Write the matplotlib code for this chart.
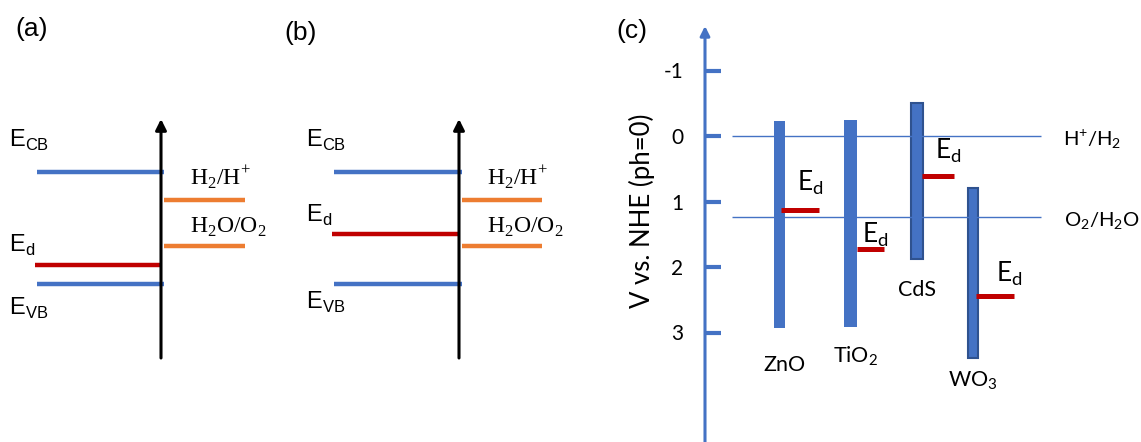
from matplotlib import pyplot as plt

W, H = 1141, 442

BLUE = "#4472C4"
ORANGE = "#ED7D31"
RED = "#C00000"

# panels (a) and (b): schematic energy levels (arbitrary units, 0..10 = arrow)
level_cb = 7.8
level_vb = 3.1
level_h2 = 6.6
level_o2 = 4.7
ed_a = 3.9
ed_b = 5.2

# panel (c): band edges in V vs NHE
materials = ["ZnO", "TiO$_\\mathregular{2}$", "CdS", "WO$_\\mathregular{3}$"]
cb_edge = [-0.23, -0.24, -0.50, 0.79]
vb_edge = [2.93, 2.92, 1.88, 3.39]
ed_level = [1.13, 1.73, 0.61, 2.44]
redox_level = [0.0, 1.23]
redox_names = ["H$^\\mathregular{+}$/H$_\\mathregular{2}$", "O$_\\mathregular{2}$/H$_\\mathregular{2}$O"]
ticks = [-1, 0, 1, 2, 3]

# layout (pixels)
bar_x = [779.5, 850.5, 917, 973]
bar_w = [11, 13, 12, 10]
bar_edge = [None, None, "#2F528F", "#2F528F"]
ed_x0 = [781, 857, 922, 976]
ed_x1 = [819, 884, 954, 1014]
ed_lab = [(797, 20), (862, 7), (935, 17), (996, 14)]
name_dy = [43, 35, 37, 28]

SANS = "Liberation Sans"
SERIF = "Liberation Serif"
CAL = "Lato"


def add_ax(x0, x1, y_top, y_bot):
    ax = fig.add_axes([x0 / W, 1 - y_bot / H, (x1 - x0) / W, (y_bot - y_top) / H])
    ax.set_xlim(x0, x1)
    ax.patch.set_alpha(0)
    return ax


def level_panel(ax, ed, x_arrow, x_left, x_right, x_lab, x_red, ed_dy, vb_dy):
    ax.set_ylim(0, 10)
    ax.axis("off")
    ax.annotate("", xy=(x_arrow, 10), xytext=(x_arrow, 0),
                arrowprops=dict(arrowstyle="-|>", lw=2.2, color="k",
                                mutation_scale=16, shrinkA=0, shrinkB=0))
    ax.hlines([level_cb, level_vb], x_left, x_arrow + 3, color=BLUE, lw=3.2)
    ax.hlines(ed, x_left - 2, x_arrow + 1, color=RED, lw=3.2)
    ax.hlines([level_h2, level_o2], x_arrow + 3, x_right, color=ORANGE, lw=3.2)
    kw = dict(textcoords="offset pixels", fontsize=17, family=SANS,
              va="baseline", annotation_clip=False)
    ax.annotate("E$_\\mathregular{CB}$", (x_lab, level_cb), xytext=(0, 25), **kw)
    ax.annotate("E$_\\mathregular{d}$", (x_lab, ed), xytext=(0, ed_dy), **kw)
    ax.annotate("E$_\\mathregular{VB}$", (x_lab, level_vb), xytext=(0, -vb_dy), **kw)
    kw = dict(textcoords="offset pixels", fontsize=17, family=SERIF,
              va="baseline", annotation_clip=False)
    ax.annotate("H$_\\mathregular{2}$/H$^\\mathregular{+}$", (x_red, level_h2), xytext=(0, 15), **kw)
    ax.annotate("H$_\\mathregular{2}$O/O$_\\mathregular{2}$", (x_red, level_o2), xytext=(0, 13), **kw)


fig = plt.figure(figsize=(W / 100, H / 100), dpi=100)

ax_a = add_ax(0, 280, 119, 358)
level_panel(ax_a, ed_a, 161, 37, 245, 9, 190, 13, 31)
ax_b = add_ax(280, 580, 119, 358)
level_panel(ax_b, ed_b, 459, 334, 542, 306, 487, 12, 25)

fig.text(15 / W, 1 - 36 / H, "(a)", fontsize=19, family=SANS)
fig.text(284 / W, 1 - 40 / H, "(b)", fontsize=19, family=SANS)
fig.text(616 / W, 1 - 38 / H, "(c)", fontsize=19, family=SANS)

# panel (c)
v0, scale = 136, 65.5
ax_c = add_ax(704, W, 26, H)
ax_c.set_ylim((H - v0) / scale, (26 - v0) / scale)
for s in ax_c.spines.values():
    s.set_visible(False)
ax_c.set_xticks([])
ax_c.set_yticks(ticks)
ax_c.set_yticklabels([str(t) for t in ticks], family=CAL, fontsize=15)
ax_c.tick_params(axis="y", direction="in", length=12, width=3, color=BLUE, pad=15)
lo, hi = ax_c.get_ylim()
ax_c.annotate("", xy=(705, hi), xytext=(705, lo),
              arrowprops=dict(arrowstyle="-|>", lw=2.2, color=BLUE,
                              mutation_scale=14, shrinkA=0, shrinkB=0))

ax_c.hlines(redox_level, 732, 1041, color=BLUE, lw=1)
for lvl, name, lx in zip(redox_level, redox_names, [1063, 1064]):
    ax_c.annotate(name, (lx, lvl), xytext=(0, -10), textcoords="offset pixels",
                  va="baseline", fontsize=14.5, family=CAL, annotation_clip=False)

for i in range(len(materials)):
    ec = bar_edge[i] if bar_edge[i] else BLUE
    ax_c.bar(bar_x[i], vb_edge[i] - cb_edge[i], bottom=cb_edge[i], width=bar_w[i],
             color=BLUE, edgecolor=ec, lw=1.5 if bar_edge[i] else 0)
    ax_c.hlines(ed_level[i], ed_x0[i], ed_x1[i], color=RED, lw=3.6, zorder=3)
    ax_c.annotate("E$_\\mathregular{d}$", (ed_lab[i][0], ed_level[i]),
                  xytext=(0, ed_lab[i][1]), textcoords="offset pixels",
                  va="baseline", fontsize=19, family=CAL)
    ax_c.annotate(materials[i], (bar_x[i] + 5 if i < 2 else bar_x[i], vb_edge[i]),
                  xytext=(0, -name_dy[i]), textcoords="offset pixels",
                  ha="center", va="baseline", fontsize=15.5, family=CAL)

fig.text(642 / W, 1 - 211 / H, "V vs. NHE (ph=0)", rotation=90,
         ha="center", va="center", fontsize=18.5, family=CAL)

plt.savefig("out.png", dpi=100)
